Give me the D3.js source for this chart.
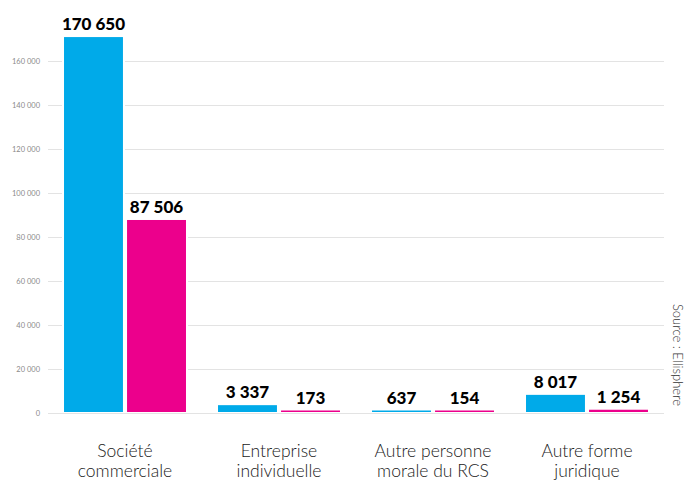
<!DOCTYPE html>
<html>
<head>
<meta charset="utf-8">
<script src="https://cdn.jsdelivr.net/npm/d3@7"></script>
<style>
  body { margin: 0; background: #fff; }
  svg { display: block; }
</style>
</head>
<body>
<div id="chart"></div>
<script>
// data
var categories = [["Société", "commerciale"], ["Entreprise", "individuelle"], ["Autre personne", "morale du RCS"], ["Autre forme", "juridique"]]
var serieA = [170650, 3337, 637, 8017]
var serieB = [87506, 173, 154, 1254]
var yTicks = [0, 20000, 40000, 60000, 80000, 100000, 120000, 140000, 160000]
var source = "Source : Ellisphere"

var width = 684, height = 482
var margin = { top: 0, left: 48, right: 20 }
var colors = ["#00aae9", "#ec008c"]

var svg = d3.select("#chart").append("svg")
    .attr("width", width)
    .attr("height", height)

var y = d3.scaleLinear()
    .domain([0, 160000])
    .range([412.5, 60.5])

var x0 = d3.scaleBand()
    .domain(d3.range(categories.length))
    .range([margin.left, 664])
    .paddingInner(0.208)
    .paddingOuter(0.104)

var x1 = d3.scaleBand()
    .domain([0, 1])
    .range([0, x0.bandwidth()])
    .paddingInner(0.065)

var fmt = function (d) { return d3.format(",")(d).replace(/,/g, " ") }
var barTop = function (d) { return Math.min(y(d), y(0) - 2) }

// grid
svg.append("g")
    .selectAll("line")
    .data(yTicks)
    .enter().append("line")
    .attr("x1", margin.left)
    .attr("x2", 664)
    .attr("y1", function (d) { return Math.round(y(d)) + 0.5 })
    .attr("y2", function (d) { return Math.round(y(d)) + 0.5 })
    .attr("stroke", "#e3e3e3")
    .attr("stroke-width", 1)

// y axis labels
svg.append("g")
    .selectAll("text")
    .data(yTicks)
    .enter().append("text")
    .attr("x", 40)
    .attr("y", function (d) { return y(d) + 3 })
    .attr("text-anchor", "end")
    .attr("font-family", "Lato, 'Open Sans', sans-serif")
    .attr("font-size", 7.5)
    .attr("fill", "#8a8a8a")
    .text(fmt)

var rows = categories.map(function (c, i) {
    return { i: i, vals: [serieA[i], serieB[i]] }
})

var groups = svg.selectAll(".grp")
    .data(rows)
    .enter().append("g")
    .attr("class", "grp")
    .attr("transform", function (d) { return "translate(" + x0(d.i) + ",0)" })

// white backing so the grid does not show between the bars
groups.selectAll(".bg")
    .data(function (d) { return d.vals })
    .enter().append("rect")
    .attr("class", "bg")
    .attr("x", function (d, j) { return x1(j) - 2 })
    .attr("width", x1.bandwidth() + 4)
    .attr("y", function (d) { return barTop(d) })
    .attr("height", function (d) { return y(0) + 0.5 - barTop(d) })
    .attr("fill", "#fff")

groups.selectAll(".bar")
    .data(function (d) { return d.vals })
    .enter().append("rect")
    .attr("class", "bar")
    .attr("x", function (d, j) { return x1(j) })
    .attr("width", x1.bandwidth())
    .attr("y", function (d) { return barTop(d) })
    .attr("height", function (d) { return y(0) - 0.5 - barTop(d) })
    .attr("fill", function (d, j) { return colors[j] })

groups.selectAll(".val")
    .data(function (d) { return d.vals })
    .enter().append("text")
    .attr("class", "val")
    .attr("x", function (d, j) { return x1(j) + x1.bandwidth() / 2 })
    .attr("y", function (d) { return barTop(d) - 7 })
    .attr("text-anchor", "middle")
    .attr("font-family", "Lato, 'Open Sans', sans-serif")
    .attr("font-weight", 900)
    .attr("font-size", 17)
    .attr("fill", "#000")
    .text(fmt)

// category labels
var cat = svg.append("g")
    .selectAll("text")
    .data(categories)
    .enter().append("text")
    .attr("x", function (d, i) { return x0(i) + x0.bandwidth() / 2 })
    .attr("y", 457)
    .attr("text-anchor", "middle")
    .attr("font-family", "Lato, 'Open Sans', sans-serif")
    .attr("font-weight", 300)
    .attr("font-size", 17.5)
    .attr("fill", "#1a1a1a")

cat.selectAll("tspan")
    .data(function (d) { return d })
    .enter().append("tspan")
    .attr("x", function () { return d3.select(this.parentNode).attr("x") })
    .attr("dy", function (d, k) { return k == 0 ? 0 : 20 })
    .text(function (d) { return d })

// source
svg.append("text")
    .attr("transform", "translate(672.5,355) rotate(90)")
    .attr("text-anchor", "middle")
    .attr("font-family", "Lato, 'Open Sans', sans-serif")
    .attr("font-weight", 300)
    .attr("font-size", 13)
    .attr("fill", "#333")
    .text(source)
</script>
</body>
</html>
